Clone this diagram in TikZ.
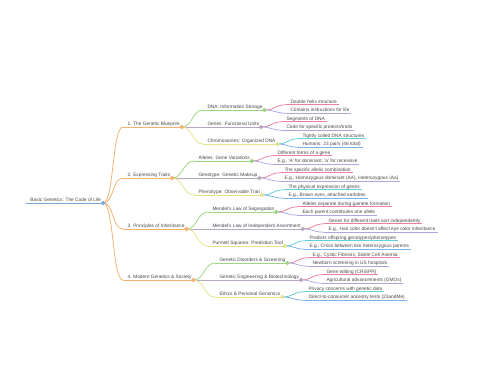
\documentclass[tikz,border=0pt]{standalone}
\usepackage{fontspec}
\setmainfont{Liberation Sans}
\usetikzlibrary{calc}
\definecolor{cRoot}{HTML}{78A8DA}
\definecolor{cOr}{HTML}{F7B070}
\definecolor{cGr}{HTML}{9CD67E}
\definecolor{cMa}{HTML}{B8A8BE}
\definecolor{cYe}{HTML}{E4E48A}
\definecolor{cPk}{HTML}{EC8098}
\definecolor{cPu}{HTML}{AEA6E4}
\definecolor{cCy}{HTML}{62CFDA}
\definecolor{cBl}{HTML}{7AB2EA}
\definecolor{cTxt}{HTML}{484848}
\tikzset{
  txt/.style={inner sep=0pt, outer sep=0pt, text=cTxt, font=\fontsize{4.8}{5.5}\selectfont},
  uline/.style={line width=0.75pt},
  conn/.style={line width=0.75pt},
  knob/.style={line width=0.7pt, fill=white},
}
\newcommand{\mnode}[5]{%
  \node[txt, anchor=base west] (#1) at (#2+4.5, #3-1.5) {#5};
  \coordinate (#1-l) at (#2, #3);
  \coordinate (#1-r) at ($(#1.base east)+(2,1.5)$);
  \draw[uline, #4] (#1-l) -- (#1-r);
}
\newcommand{\mlink}[3]{\draw[conn, #3] (#1-r) .. controls +(11,0) and +(-11,0) .. (#2-l);}
\newcommand{\mknob}[2]{\draw[knob, #2] (#1-r) circle (1.8);}
\newcommand{\sq}{\textquotesingle}
\begin{document}
\begin{tikzpicture}[x=1pt,y=-1pt]
\useasboundingbox (0,0) rectangle (480,384);
\fill[white] (0,0) rectangle (480,384);
% root
\mnode{root}{26}{203}{cRoot}{Basic Genetics: The Code of Life}
% level 1
\mnode{b1}{123}{127}{cOr}{1. The Genetic Blueprint}
\mnode{b2}{123}{178}{cOr}{2. Expressing Traits}
\mnode{b3}{123}{229}{cOr}{3. Principles of Inheritance}
\mnode{b4}{123}{280}{cOr}{4. Modern Genetics \& Society}
% group 1
\mnode{dna}{203}{110}{cGr}{DNA: Information Storage}
\mnode{genes}{203}{127}{cMa}{Genes: Functional Units}
\mnode{chrom}{203}{144}{cYe}{Chromosomes: Organized DNA}
\mnode{dna1}{286}{104.8}{cPk}{Double helix structure}
\mnode{dna2}{286}{113.2}{cPu}{Contains instructions for life}
\mnode{gen1}{282}{121.8}{cPk}{Segments of DNA}
\mnode{gen2}{282}{130.2}{cPu}{Code for specific proteins/traits}
\mnode{chr1}{298}{138.8}{cCy}{Tightly coiled DNA structures}
\mnode{chr2}{298}{147.2}{cBl}{Humans: 23 pairs (46 total)}
% group 2
\mnode{all}{194}{161}{cGr}{Alleles: Gene Variations}
\mnode{geno}{194}{178}{cMa}{Genotype: Genetic Makeup}
\mnode{pheno}{194}{195}{cYe}{Phenotype: Observable Trait}
\mnode{all1}{273}{155.8}{cPk}{Different forms of a gene}
\mnode{all2}{273}{164.2}{cPu}{E.g., \sq A\sq{} for dominant, \sq a\sq{} for recessive}
\mnode{geno1}{280}{172.8}{cPk}{The specific allelic combination}
\mnode{geno2}{280}{181.2}{cPu}{E.g., Homozygous dominant (AA), Heterozygous (Aa)}
\mnode{phe1}{284}{189.8}{cCy}{The physical expression of genes}
\mnode{phe2}{284}{198.2}{cBl}{E.g., Brown eyes, attached earlobes}
% group 3
\mnode{seg}{208}{212}{cGr}{Mendel\sq s Law of Segregation}
\mnode{ind}{208}{229}{cMa}{Mendel\sq s Law of Independent Assortment}
\mnode{pun}{208}{246}{cYe}{Punnett Squares: Prediction Tool}
\mnode{seg1}{298}{206.8}{cPk}{Alleles separate during gamete formation}
\mnode{seg2}{298}{215.2}{cPu}{Each parent contributes one allele}
\mnode{ind1}{324}{223.8}{cPk}{Genes for different traits sort independently}
\mnode{ind2}{324}{232.2}{cPu}{E.g., Hair color doesn\sq t affect eye color inheritance}
\mnode{pun1}{305}{240.8}{cCy}{Predicts offspring genotypes/phenotypes}
\mnode{pun2}{305}{249.2}{cBl}{E.g., Cross between two heterozygous parents}
% group 4
\mnode{dis}{215}{263}{cGr}{Genetic Disorders \& Screening}
\mnode{eng}{215}{280}{cMa}{Genetic Engineering \& Biotechnology}
\mnode{eth}{215}{297}{cYe}{Ethics \& Personal Genomics}
\mnode{dis1}{308}{257.8}{cPk}{E.g., Cystic Fibrosis, Sickle Cell Anemia}
\mnode{dis2}{308}{266.2}{cPu}{Newborn screening in US hospitals}
\mnode{eng1}{322}{274.8}{cPk}{Gene editing (CRISPR)}
\mnode{eng2}{322}{283.2}{cPu}{Agricultural advancements (GMOs)}
\mnode{eth1}{304}{291.8}{cCy}{Privacy concerns with genetic data}
\mnode{eth2}{304}{300.2}{cBl}{Direct-to-consumer ancestry tests (23andMe)}
% links
\mlink{root}{b1}{cOr}\mlink{root}{b2}{cOr}\mlink{root}{b3}{cOr}\mlink{root}{b4}{cOr}
\mlink{b1}{dna}{cGr}\mlink{b1}{genes}{cMa}\mlink{b1}{chrom}{cYe}
\mlink{b2}{all}{cGr}\mlink{b2}{geno}{cMa}\mlink{b2}{pheno}{cYe}
\mlink{b3}{seg}{cGr}\mlink{b3}{ind}{cMa}\mlink{b3}{pun}{cYe}
\mlink{b4}{dis}{cGr}\mlink{b4}{eng}{cMa}\mlink{b4}{eth}{cYe}
\mlink{dna}{dna1}{cPk}\mlink{dna}{dna2}{cPu}
\mlink{genes}{gen1}{cPk}\mlink{genes}{gen2}{cPu}
\mlink{chrom}{chr1}{cCy}\mlink{chrom}{chr2}{cBl}
\mlink{all}{all1}{cPk}\mlink{all}{all2}{cPu}
\mlink{geno}{geno1}{cPk}\mlink{geno}{geno2}{cPu}
\mlink{pheno}{phe1}{cCy}\mlink{pheno}{phe2}{cBl}
\mlink{seg}{seg1}{cPk}\mlink{seg}{seg2}{cPu}
\mlink{ind}{ind1}{cPk}\mlink{ind}{ind2}{cPu}
\mlink{pun}{pun1}{cCy}\mlink{pun}{pun2}{cBl}
\mlink{dis}{dis1}{cPk}\mlink{dis}{dis2}{cPu}
\mlink{eng}{eng1}{cPk}\mlink{eng}{eng2}{cPu}
\mlink{eth}{eth1}{cCy}\mlink{eth}{eth2}{cBl}
% knobs
\mknob{root}{cRoot}
\mknob{b1}{cOr}\mknob{b2}{cOr}\mknob{b3}{cOr}\mknob{b4}{cOr}
\mknob{dna}{cGr}\mknob{genes}{cMa}\mknob{chrom}{cYe}
\mknob{all}{cGr}\mknob{geno}{cMa}\mknob{pheno}{cYe}
\mknob{seg}{cGr}\mknob{ind}{cMa}\mknob{pun}{cYe}
\mknob{dis}{cGr}\mknob{eng}{cMa}\mknob{eth}{cYe}
\end{tikzpicture}
\end{document}
